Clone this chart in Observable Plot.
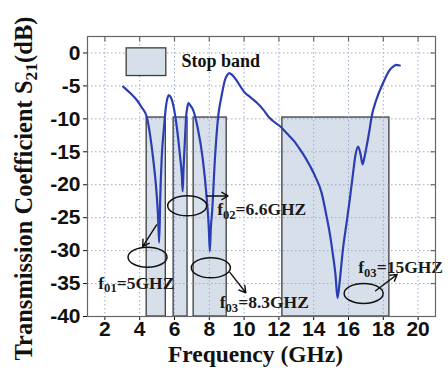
<!DOCTYPE html>
<html><head><meta charset="utf-8">
<script src="https://cdn.jsdelivr.net/npm/d3@7"></script>
<script src="https://cdn.jsdelivr.net/npm/@observablehq/plot@0.6"></script>
<style>html,body{margin:0;padding:0;background:#fff;} svg{display:block}</style>
</head><body><div id="chart"></div>
<script>
// ---- data ----
const freq = [3.05, 3.5, 3.82, 4.1, 4.4, 4.6, 4.78, 4.97, 5.05, 5.12, 5.18, 5.26, 5.4, 5.51, 5.6, 5.68, 5.78, 5.9, 6.13, 6.32, 6.42, 6.47, 6.52, 6.59, 6.67, 6.74, 6.8, 6.92, 7.06, 7.32, 7.63, 7.86, 7.97, 8.03, 8.09, 8.17, 8.32, 8.51, 8.7, 8.9, 9.05, 9.15, 9.3, 9.6, 10.0, 10.4, 10.75, 11.1, 11.43, 11.7, 12.1, 12.45, 12.85, 13.23, 13.5, 13.8, 14.1, 14.45, 14.74, 14.95, 15.12, 15.25, 15.37, 15.5, 15.68, 15.9, 16.07, 16.25, 16.4, 16.56, 16.7, 16.81, 16.92, 17.04, 17.2, 17.33, 17.6, 17.98, 18.36, 18.6, 18.74, 18.95];
const s21 = [-5.1, -6.2, -7.1, -8.2, -9.65, -12.5, -16.2, -21.3, -24.5, -28.8, -22.0, -16.2, -11.2, -8.1, -6.8, -6.4, -6.7, -7.6, -11.2, -15.7, -18.5, -21.0, -17.5, -13.7, -9.65, -8.2, -7.6, -8.0, -8.6, -11.2, -16.2, -22.3, -26.5, -30.1, -26.5, -23.8, -16.2, -9.65, -6.6, -4.1, -3.3, -3.05, -3.3, -4.3, -5.9, -6.8, -7.6, -8.6, -9.75, -10.4, -11.2, -12.2, -13.3, -14.7, -15.8, -17.2, -18.8, -21.2, -24.8, -27.8, -30.9, -33.6, -37.2, -34.5, -29.8, -25.6, -22.3, -18.5, -15.5, -14.2, -15.5, -16.9, -15.8, -14.2, -11.8, -9.65, -7.1, -4.6, -2.6, -2.0, -1.8, -1.9];

const xTicks = [2, 4, 6, 8, 10, 12, 14, 16, 18, 20];
const yTicks = [0, -5, -10, -15, -20, -25, -30, -35, -40];

const bandStart = [4.4, 5.95, 7.1, 12.2];
const bandEnd = [5.5, 6.75, 9.0, 18.35];
const bandTop = -9.8;
const bandBottom = -40;

const legendLabel = "Stop band";
const legendX = [3.25, 5.53];
const legendY = [0.7, -3.5];
const legendTextX = 6.4;
const legendTextY = -1.3;

const markerFreq = [4.45, 6.73, 8.09, 16.87];
const markerDb = [-31.0, -23.2, -32.6, -36.5];

const arrowFromFreq = [4.97, 7.84, 9.18, 17.56];
const arrowFromDb = [-26.1, -21.7, -33.3, -36.1];
const arrowToFreq = [4.17, 9.08, 10.1, 18.8];
const arrowToDb = [-29.4, -21.7, -36.4, -33.6];

const labelText = ["f01=5GHZ", "f02=6.6GHZ", "f03=8.3GHZ", "f03=15GHZ"];
const labelFreq = [1.62, 8.45, 8.6, 16.56];
const labelDb = [-34.9, -23.75, -37.9, -32.6];

const xLabel = "Frequency (GHz)";
const yLabel = "Transmission Coefficient S21(dB)";

// ---- tables built from the arrays ----
const curve = freq.map((f, i) => ({f, db: s21[i]}));
const bands = bandStart.map((s, i) => ({s, e: bandEnd[i]}));
const markers = markerFreq.map((f, i) => ({f, db: markerDb[i]}));
const arrows = arrowFromFreq.map((f, i) => ({x1: f, y1: arrowFromDb[i], x2: arrowToFreq[i], y2: arrowToDb[i]}));
const labels = labelText.map((t, i) => ({t, f: labelFreq[i], db: labelDb[i]}));

const serif = "'Liberation Serif', 'Times New Roman', serif";
const sans = "'Liberation Sans', Arial, sans-serif";

function ellipseSymbol(rx, ry) {
  const k = 0.5523;
  return {draw(ctx) {
    ctx.moveTo(rx, 0);
    ctx.bezierCurveTo(rx, k * ry, k * rx, ry, 0, ry);
    ctx.bezierCurveTo(-k * rx, ry, -rx, k * ry, -rx, 0);
    ctx.bezierCurveTo(-rx, -k * ry, -k * rx, -ry, 0, -ry);
    ctx.bezierCurveTo(k * rx, -ry, rx, -k * ry, rx, 0);
    ctx.closePath();
  }};
}
const vTick = {draw(ctx) { ctx.moveTo(0, 0); ctx.lineTo(0, 5); }};
const hTick = {draw(ctx) { ctx.moveTo(0, 0); ctx.lineTo(-5, 0); }};

const chart = Plot.plot({
  width: 448, height: 374,
  marginLeft: 87, marginRight: 13, marginTop: 36, marginBottom: 58,
  style: {background: "#fff", color: "#111", overflow: "visible"},
  x: {domain: [1, 21]},
  y: {domain: [-40, 2.5]},
  marks: [
    Plot.rect(bands, {x1: "s", x2: "e", y1: () => bandTop, y2: () => bandBottom, fill: "#d7e0ea", stroke: "#3c3c3c", strokeWidth: 1.3}),
    Plot.gridX({ticks: xTicks, stroke: "#9fa9c9", strokeOpacity: 1, strokeDasharray: "1.5,2.5", strokeWidth: 1}),
    Plot.gridY({ticks: yTicks.filter(d => d > -40), stroke: "#9fa9c9", strokeOpacity: 1, strokeDasharray: "1.5,2.5", strokeWidth: 1}),
    Plot.rect([0], {x1: () => legendX[0], x2: () => legendX[1], y1: () => legendY[0], y2: () => legendY[1], fill: "#d7e0ea", stroke: "#3c3c3c", strokeWidth: 1.3}),
    Plot.text([legendLabel], {x: () => legendTextX, y: () => legendTextY, text: d => d, textAnchor: "start", fontFamily: serif, fontWeight: "bold", fontSize: 18, fill: "#111"}),
    Plot.line(curve, {x: "f", y: "db", curve: "monotone-x", stroke: "#2b3db3", strokeWidth: 2.2}),
    Plot.dot(markers, {x: "f", y: "db", symbol: ellipseSymbol(19.5, 10), r: 10, stroke: "#111", fill: "none", strokeWidth: 1.5}),
    Plot.arrow(arrows, {x1: "x1", y1: "y1", x2: "x2", y2: "y2", stroke: "#111", strokeWidth: 1.4, headLength: 8, bend: 0}),
    Plot.text(labels, {x: "f", y: "db", text: "t", textAnchor: "start", fontFamily: serif, fontWeight: "bold", fontSize: 17.5, fill: "#1a1a1a"}),
    Plot.axisX({ticks: xTicks, anchor: "bottom", tickSize: 4, tickPadding: 1, fontSize: 21, fontWeight: "bold", fontFamily: sans, tickFormat: d => String(d), label: null}),
    Plot.axisY({ticks: yTicks, anchor: "left", tickSize: 4, tickPadding: 3, fontSize: 21, fontWeight: "bold", fontFamily: sans, tickFormat: d => String(d), label: null}),
    Plot.dot(xTicks, {x: d => d, frameAnchor: "top", symbol: vTick, stroke: "#666", fill: "none", strokeWidth: 1.2}),
    Plot.dot(yTicks.filter(d => d > -40), {y: d => d, frameAnchor: "right", symbol: hTick, stroke: "#666", fill: "none", strokeWidth: 1.2}),
    Plot.frame({stroke: "#666", strokeWidth: 1.2}),
    Plot.text([xLabel], {frameAnchor: "bottom", text: d => d, textAnchor: "middle", dx: -6, dy: 45, fontFamily: serif, fontWeight: "bold", fontSize: 23.5, fill: "#111"}),
    Plot.text([yLabel], {frameAnchor: "left", text: d => d, textAnchor: "middle", rotate: -90, dx: -63, dy: 12, fontFamily: serif, fontWeight: "bold", fontSize: 24.5, fill: "#111"})
  ]
});

// subscripts as real text
d3.select(chart).selectAll("text").each(function() {
  const t = this.textContent;
  let parts = null;
  const m = /^f(0\d)(=.*)$/.exec(t);
  if (m) parts = ["f", m[1], m[2]];
  else if (t === yLabel) parts = ["Transmission Coefficient S", "21", "(dB)"];
  if (!parts) return;
  const el = d3.select(this);
  el.text(null);
  el.append("tspan").text(parts[0]);
  el.append("tspan").attr("dy", "0.28em").attr("font-size", "72%").text(parts[1]);
  el.append("tspan").attr("dy", "-0.2em").text(parts[2]);
});

document.getElementById("chart").appendChild(chart);
</script>
</body></html>
